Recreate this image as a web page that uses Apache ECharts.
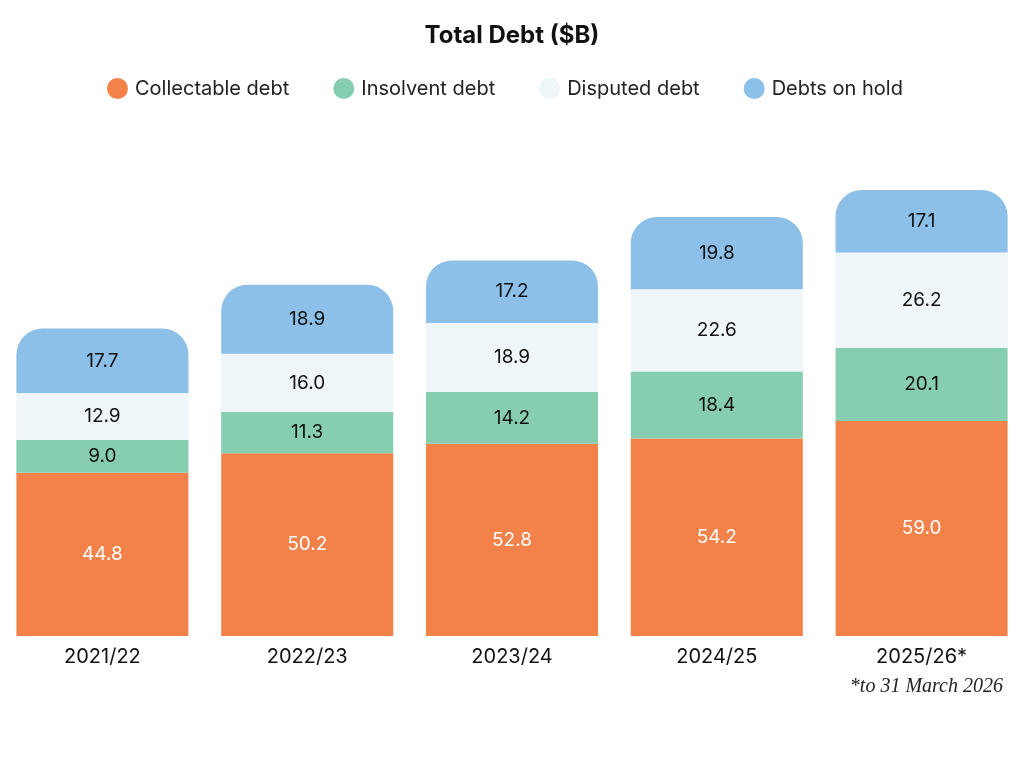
<!DOCTYPE html>
<html><head><meta charset="utf-8">
<script src="https://cdn.jsdelivr.net/npm/echarts@6/dist/echarts.min.js"></script>
<style>html,body{margin:0;padding:0;background:#fff}#c{width:1024px;height:768px}</style>
</head><body><div id="c"></div>
<script>
const categories = ['2021/22','2022/23','2023/24','2024/25','2025/26*'];
const collectable = [44.8, 50.2, 52.8, 54.2, 59.0];
const insolvent = [9.0, 11.3, 14.2, 18.4, 20.1];
const disputed = [12.9, 16.0, 18.9, 22.6, 26.2];
const onHold = [17.7, 18.9, 17.2, 19.8, 17.1];

const FONT = 'Inter';
function mk(name, data, color, labelColor, radius) {
  return {
    name, type: 'bar', stack: 'total', data, barWidth: '84%',
    itemStyle: { color, borderRadius: radius || 0 },
    label: { show: true, position: 'inside', color: labelColor, fontFamily: FONT, fontSize: 19,
      formatter: p => p.value.toFixed(1) },
    emphasis: { disabled: true }
  };
}
const chart = echarts.init(document.getElementById('c'));
chart.setOption({
  animation: false,
  title: { text: 'Total Debt ($B)', left: 'center', top: 19,
    textStyle: { fontFamily: FONT, fontSize: 24, fontWeight: 'bold', color: '#111' } },
  legend: { top: 73, left: 102, icon: 'circle', itemWidth: 21, itemHeight: 21, itemGap: 44,
    textStyle: { fontFamily: FONT, fontSize: 20, color: '#222', padding: [0, 0, 0, 2] } },
  grid: { left: 0, right: 0, top: 126, bottom: 132 },
  xAxis: { type: 'category', data: categories, axisLine: { show: false }, axisTick: { show: false },
    axisLabel: { fontFamily: FONT, fontSize: 20, color: '#111', margin: 11 } },
  yAxis: { type: 'value', min: 0, max: 140, show: false, splitLine: { show: false } },
  graphic: [{ type: 'text', right: 21, top: 677,
    style: { text: '*to 31 March 2026', font: 'italic 20px "Liberation Serif", serif', fill: '#222' } }],
  series: [
    mk('Collectable debt', collectable, '#F3824A', '#fff'),
    mk('Insolvent debt', insolvent, '#87CDB0', '#111'),
    mk('Disputed debt', disputed, '#EEF6FA', '#111'),
    mk('Debts on hold', onHold, '#8CC0E8', '#111', [26, 26, 0, 0])
  ]
});
</script></body></html>
